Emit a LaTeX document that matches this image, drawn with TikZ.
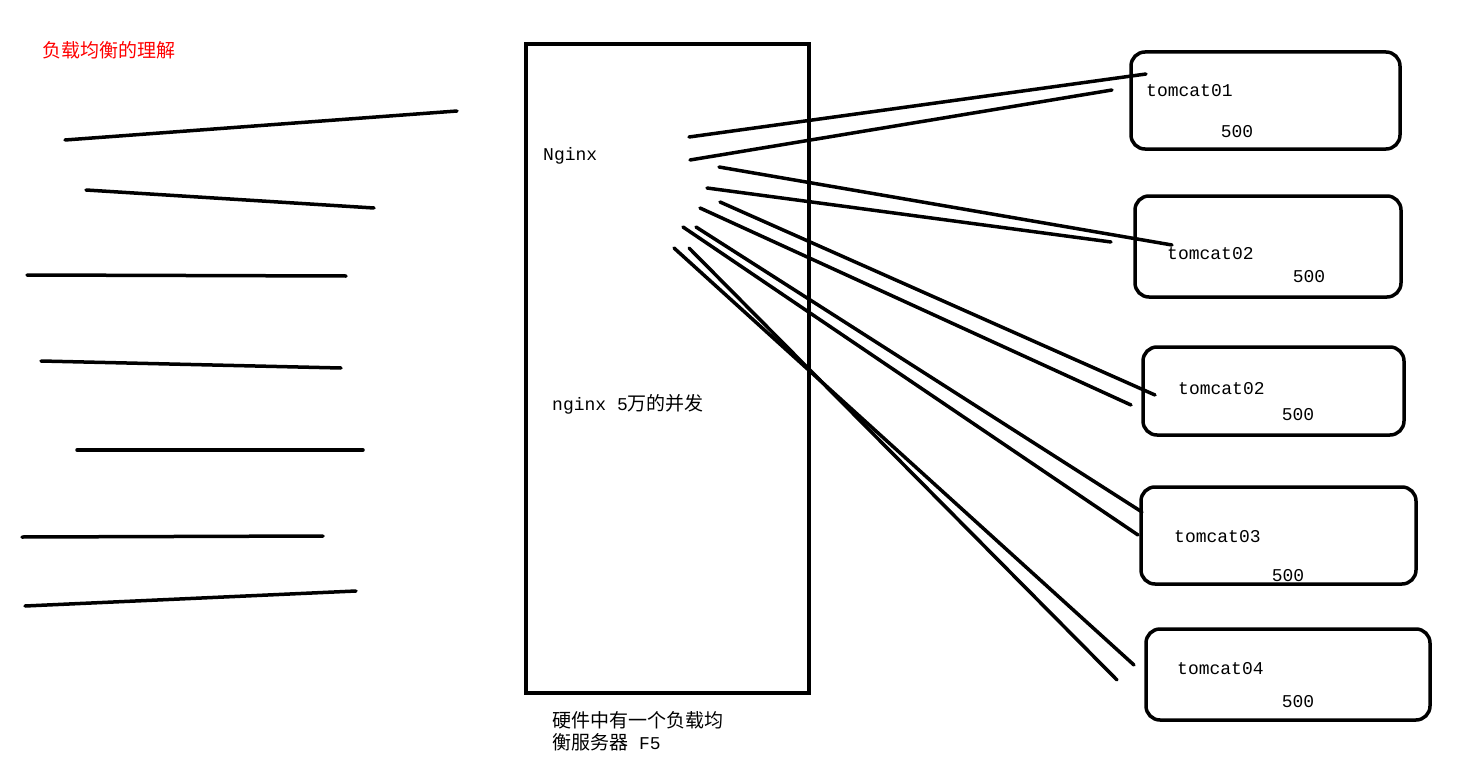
\documentclass[tikz,border=0pt]{standalone}
\usepackage{fontspec}
\setmainfont{Liberation Mono}
\newfontfamily\cjk{Noto Sans CJK SC}
\begin{document}
\begin{tikzpicture}[x=1pt, y=-1pt, font=\fontsize{18}{22}\selectfont,
    stroke/.style={line width=3.5pt, line cap=round},
    server/.style={draw, line width=3.5pt, rounded corners=14pt},
    lbl/.style={anchor=west, inner sep=0pt}]
    \useasboundingbox (0,0) rectangle (1481,760);

    \node[lbl, text=red] (title) at (42,50) {\cjk\fontsize{19}{22}\selectfont 负载均衡的理解};

    % clients
    \draw[stroke] (65,140) -- (457,111);
    \draw[stroke] (86,190) -- (374,208);
    \draw[stroke] (27,275) -- (346,276);
    \draw[stroke] (41,361) -- (341,368);
    \draw[stroke] (77,450) -- (363,450);
    \draw[stroke] (22,537) -- (323,536);
    \draw[stroke] (25,606) -- (356,591);

    % load balancer
    \draw[line width=3.5pt] (526,44) rectangle (809,693);
    \node[lbl] (ngx) at (543,156) {Nginx};
    \node[lbl] (conc) at (552,404) {nginx 5{\cjk\fontsize{19}{22}\selectfont 万的并发}};
    \node[lbl, align=left] (hw) at (552,731) {{\cjk\fontsize{19}{27}\selectfont 硬件中有一个负载均}\\{\cjk\fontsize{19}{22}\selectfont 衡服务器} F5};

    % servers
    \draw[server] (1131,52) rectangle (1400,149);
    \draw[server] (1135,196) rectangle (1401,297);
    \draw[server] (1143,347) rectangle (1404,435);
    \draw[server] (1141,487) rectangle (1416,584);
    \draw[server] (1146,629) rectangle (1430,720);
    \node[lbl] (t1) at (1146,91) {tomcat01};
    \node[lbl] (t2) at (1167,254) {tomcat02};
    \node[lbl] (t3) at (1178,389) {tomcat02};
    \node[lbl] (t4) at (1174,537) {tomcat03};
    \node[lbl] (t5) at (1177,669) {tomcat04};
    \node (w1) at (1237,132) {500};
    \node (w2) at (1309,277) {500};
    \node (w3) at (1298,415) {500};
    \node (w4) at (1288,576) {500};
    \node (w5) at (1298,702) {500};

    % links
    \draw[stroke] (689,137) -- (1146,74);
    \draw[stroke] (690,160) -- (1112,90);
    \draw[stroke] (719,167) -- (1172,245);
    \draw[stroke] (707,188) -- (1111,242);
    \draw[stroke] (720,202) -- (1155,395);
    \draw[stroke] (700,208) -- (1131,405);
    \draw[stroke] (696,227) -- (1142,512);
    \draw[stroke] (683,227) -- (1138,535);
    \draw[stroke] (689,248) -- (1117,680);
    \draw[stroke] (674,248) -- (1134,665);
\end{tikzpicture}
\end{document}
